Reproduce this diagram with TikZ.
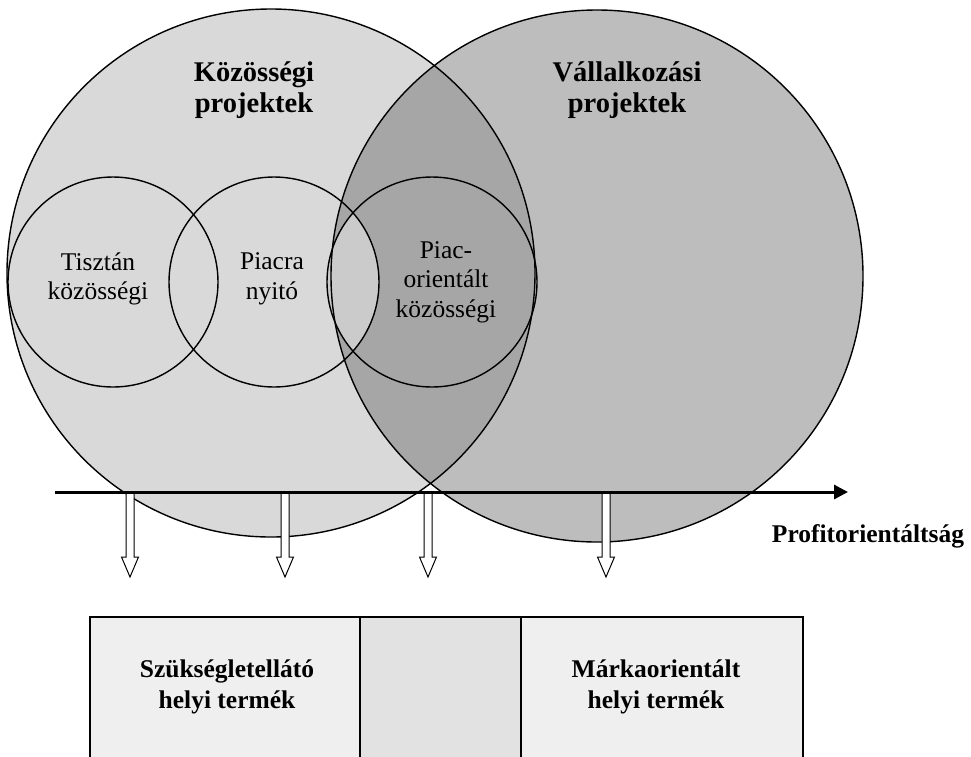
\documentclass[tikz,border=0pt]{standalone}
\usepackage{fontspec}
\setmainfont{Liberation Serif}
\usetikzlibrary{arrows.meta}
\definecolor{vilagos}{HTML}{D9D9D9}
\definecolor{kozep}{HTML}{BDBDBD}
\definecolor{sotet}{HTML}{A6A6A6}
\definecolor{atmenet}{HTML}{CBCBCB}
\definecolor{dobozszin}{HTML}{EFEFEF}
\definecolor{dobozkozep}{HTML}{E2E2E2}
\tikzset{
  kor/.style={draw=black, line width=1.4pt},
  felirat/.style={align=center, font=\fontsize{28.5}{31}\selectfont\bfseries},
  szoveg/.style={align=center, font=\fontsize{25.5}{29.5}\selectfont},
  vastag/.style={align=center, font=\fontsize{25.5}{31}\selectfont\bfseries},
  doboz/.style={draw=black, line width=1.5pt, minimum height=143pt, inner sep=0pt},
  nyil/.style={draw=black, fill=white, line width=1pt, line join=miter}
}
\begin{document}
\begin{tikzpicture}[x=1pt,y=-1pt]
  \useasboundingbox (0,0) rectangle (971,756);
  \clip (0,0) rectangle (971,756);
  \fill[white] (0,0) rectangle (971,756);
  \coordinate (K) at (271,273);
  \coordinate (V) at (597,276);
  \coordinate (T) at (113,282);
  \coordinate (P) at (274,282);
  \coordinate (O) at (432,282);
  \fill[vilagos] (K) circle (264pt);
  \fill[kozep] (V) circle (266pt);
  \begin{scope}
    \clip (K) circle (264pt);
    \fill[sotet] (V) circle (266pt);
  \end{scope}
  \begin{scope}
    \clip (P) circle (105pt);
    \fill[atmenet] (O) circle (105pt);
  \end{scope}
  \draw[kor] (K) circle (264pt) (V) circle (266pt);
  \foreach \c in {T,P,O} \draw[kor] (\c) circle (105pt);
  \foreach \x [count=\i] in {130,285,428,606}{
    \coordinate (n\i) at (\x,493);
    \draw[nyil, shift={(n\i)}] (-4,0) -- (-4,64) -- (-8.5,64) -- (0,84) -- (8.5,64) -- (4,64) -- (4,0);
  }
  \coordinate (a0) at (55,492);
  \coordinate (a1) at (848,492);
  \draw[line width=3pt, -{Triangle[length=14pt,width=14pt]}] (a0) -- (a1);
  \node[vastag, anchor=base] (profit) at (868,542) {Profitorientáltság};
  \node[felirat] (kozossegi) at (254,90.5) {Közösségi\\projektek};
  \node[felirat] (vallalkozasi) at (627,90) {Vállalkozási\\projektek};
  \node[szoveg] (tisztan) at (98,279) {Tisztán\\közösségi};
  \node[szoveg] (piacra) at (272,279) {Piacra\\nyitó};
  \node[szoveg] (piacor) at (446,282) {Piac-\\orientált\\közösségi};
  \node[doboz, fill=dobozszin, minimum width=270pt] (bal) at (225,688.5) {};
  \node[doboz, fill=dobozkozep, minimum width=161pt] (kozepso) at (440.5,688.5) {};
  \node[doboz, fill=dobozszin, minimum width=282pt] (jobb) at (662,688.5) {};
  \node[vastag] (szukseg) at (227,687) {Szükségletellátó\\helyi termék};
  \node[vastag] (marka) at (656,687) {Márkaorientált\\helyi termék};
\end{tikzpicture}
\end{document}
